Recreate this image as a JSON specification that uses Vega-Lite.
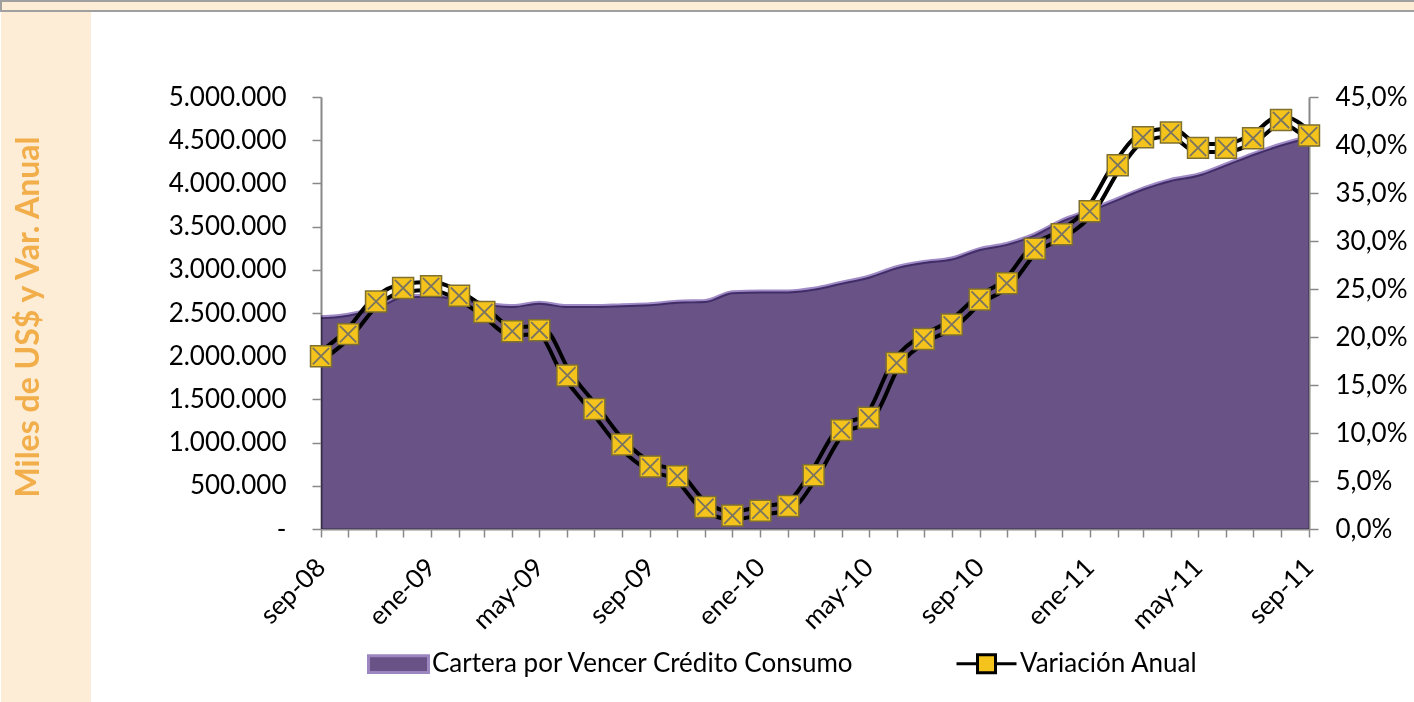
{
  "$schema": "https://vega.github.io/schema/vega-lite/v6.json",
  "background": "white",
  "padding": 0,
  "spacing": 0,
  "config": {"view": {"stroke": null}, "font": "Lato"},
  "datasets": {
    "serie": [
      {"fecha": "2008-09-01", "cartera": 2450000, "var": 18.0},
      {"fecha": "2008-10-01", "cartera": 2480000, "var": 20.3},
      {"fecha": "2008-11-01", "cartera": 2560000, "var": 23.7},
      {"fecha": "2008-12-01", "cartera": 2690000, "var": 25.1},
      {"fecha": "2009-01-01", "cartera": 2700000, "var": 25.3},
      {"fecha": "2009-02-01", "cartera": 2670000, "var": 24.3},
      {"fecha": "2009-03-01", "cartera": 2610000, "var": 22.6},
      {"fecha": "2009-04-01", "cartera": 2580000, "var": 20.6},
      {"fecha": "2009-05-01", "cartera": 2620000, "var": 20.7},
      {"fecha": "2009-06-01", "cartera": 2580000, "var": 16.0},
      {"fecha": "2009-07-01", "cartera": 2580000, "var": 12.5},
      {"fecha": "2009-08-01", "cartera": 2590000, "var": 8.8},
      {"fecha": "2009-09-01", "cartera": 2600000, "var": 6.5},
      {"fecha": "2009-10-01", "cartera": 2630000, "var": 5.5},
      {"fecha": "2009-11-01", "cartera": 2640000, "var": 2.3},
      {"fecha": "2009-12-01", "cartera": 2740000, "var": 1.4},
      {"fecha": "2010-01-01", "cartera": 2750000, "var": 1.9},
      {"fecha": "2010-02-01", "cartera": 2750000, "var": 2.4},
      {"fecha": "2010-03-01", "cartera": 2780000, "var": 5.6},
      {"fecha": "2010-04-01", "cartera": 2850000, "var": 10.3},
      {"fecha": "2010-05-01", "cartera": 2920000, "var": 11.6},
      {"fecha": "2010-06-01", "cartera": 3030000, "var": 17.3},
      {"fecha": "2010-07-01", "cartera": 3090000, "var": 19.8},
      {"fecha": "2010-08-01", "cartera": 3130000, "var": 21.3},
      {"fecha": "2010-09-01", "cartera": 3240000, "var": 23.9},
      {"fecha": "2010-10-01", "cartera": 3300000, "var": 25.6},
      {"fecha": "2010-11-01", "cartera": 3410000, "var": 29.2},
      {"fecha": "2010-12-01", "cartera": 3570000, "var": 30.7},
      {"fecha": "2011-01-01", "cartera": 3690000, "var": 33.1},
      {"fecha": "2011-02-01", "cartera": 3820000, "var": 37.9},
      {"fecha": "2011-03-01", "cartera": 3940000, "var": 40.8},
      {"fecha": "2011-04-01", "cartera": 4040000, "var": 41.3},
      {"fecha": "2011-05-01", "cartera": 4100000, "var": 39.7},
      {"fecha": "2011-06-01", "cartera": 4220000, "var": 39.7},
      {"fecha": "2011-07-01", "cartera": 4340000, "var": 40.7},
      {"fecha": "2011-08-01", "cartera": 4450000, "var": 42.6},
      {"fecha": "2011-09-01", "cartera": 4540000, "var": 41.0}
    ]
  },
  "vconcat": [
    {
      "width": 1414,
      "height": 10,
      "view": {"fill": "#FDEDD6", "stroke": "#A0A0A0", "strokeWidth": 2},
      "data": {"values": []},
      "mark": "point"
    },
    {
      "spacing": 77,
      "hconcat": [
        {
          "width": 90,
          "height": 692,
          "view": {"fill": "#FDEDD6", "stroke": null},
          "data": {"values": [{"t": "Miles de US$ y Var. Anual"}]},
          "mark": {"type": "text", "angle": 270, "font": "Lato", "fontSize": 32, "fontWeight": "bold", "color": "#F2AE4A", "align": "center", "baseline": "middle", "dx": 41, "dy": -17},
          "encoding": {"text": {"field": "t", "type": "nominal"}}
        },
        {
          "spacing": 71,
          "vconcat": [
            {
              "width": 988,
              "height": 1,
              "data": {"values": []},
              "mark": "point"
            },
            {
              "width": 988,
              "height": 432,
              "data": {"name": "serie"},
              "encoding": {
                "x": {
                  "field": "fecha",
                  "type": "temporal",
                  "scale": {"type": "utc", "nice": false},
                  "axis": {
                    "title": null,
                    "tickCount": {"interval": "month", "step": 1},
                    "labelExpr": "utcmonth(datum.value) % 4 == 0 ? ['ene','feb','mar','abr','may','jun','jul','ago','sep','oct','nov','dic'][utcmonth(datum.value)] + '-' + utcFormat(datum.value, '%y') : ''",
                    "labelAngle": -45,
                    "labelAlign": "right",
                    "labelBaseline": "middle",
                    "labelPadding": 26,
                    "labelFontSize": 26,
                    "labelColor": "black",
                    "labelOverlap": false,
                    "labelFlush": false,
                    "grid": false,
                    "domainColor": "#888888",
                    "domainWidth": 2,
                    "tickColor": "#888888",
                    "tickWidth": 1.5,
                    "tickSize": 8
                  }
                }
              },
              "layer": [
                {
                  "mark": {"type": "line", "interpolate": "monotone", "color": "black", "strokeWidth": 12, "strokeJoin": "round", "strokeCap": "round"},
                  "encoding": {
                    "y": {
                      "field": "var",
                      "type": "quantitative",
                      "scale": {"domain": [0, 45], "nice": false},
                      "axis": {
                        "orient": "right",
                        "title": null,
                        "values": [0, 5, 10, 15, 20, 25, 30, 35, 40, 45],
                        "labelExpr": "replace(format(datum.value, '.1f'), '.', ',') + '%'",
                        "labelFontSize": 26,
                        "labelColor": "black",
                        "labelPadding": 17,
                        "grid": false,
                        "domainColor": "#888888",
                        "domainWidth": 2,
                        "tickColor": "#888888",
                        "tickWidth": 1.5,
                        "tickSize": 9
                      }
                    }
                  }
                },
                {
                  "mark": {"type": "line", "interpolate": "monotone", "color": "white", "strokeWidth": 4, "strokeJoin": "round"},
                  "encoding": {
                    "y": {"field": "var", "type": "quantitative", "scale": {"domain": [0, 45], "nice": false}, "axis": null}
                  }
                },
                {
                  "mark": {"type": "area", "interpolate": "monotone", "blend": "multiply", "opacity": 1},
                  "encoding": {
                    "y": {
                      "field": "cartera",
                      "type": "quantitative",
                      "scale": {"domain": [0, 5000000], "nice": false},
                      "axis": {
                        "orient": "left",
                        "title": null,
                        "values": [0, 500000, 1000000, 1500000, 2000000, 2500000, 3000000, 3500000, 4000000, 4500000, 5000000],
                        "labelExpr": "datum.value == 0 ? '-' : replace(format(datum.value, ',.0f'), /,/g, '.')",
                        "labelFontSize": 26,
                        "labelColor": "black",
                        "labelPadding": 26,
                        "grid": false,
                        "domainColor": "#888888",
                        "domainWidth": 2,
                        "tickColor": "#888888",
                        "tickWidth": 1.5,
                        "tickSize": 9
                      }
                    },
                    "color": {
                      "datum": "Cartera por Vencer Crédito Consumo",
                      "type": "nominal",
                      "scale": {"domain": ["Cartera por Vencer Crédito Consumo", "Variación Anual"], "range": ["#685286", "#F4C31C"]},
                      "legend": {
                        "title": null,
                        "orient": "none",
                        "legendX": 366,
                        "legendY": 631,
                        "direction": "horizontal",
                        "labelFontSize": 26,
                        "labelFont": "Lato",
                        "labelColor": "black",
                        "labelLimit": 0,
                        "labelOffset": 2,
                        "columnPadding": 95,
                        "symbolSize": 3600,
                        "symbolOpacity": 1,
                        "encode": {
                          "symbols": {
                            "update": {
                              "shape": {"signal": "datum.value == 'Variación Anual' ? 'M-1,0H-0.3M0.3,0H1M-0.3,-0.3H0.3V0.3H-0.3Z' : 'M-1,-0.28H1V0.28H-1Z'"},
                              "fill": {"signal": "datum.value == 'Variación Anual' ? '#F4C31C' : '#685286'"},
                              "stroke": {"signal": "datum.value == 'Variación Anual' ? 'black' : '#9C86C0'"},
                              "strokeWidth": {"value": 3},
                              "opacity": {"value": 1}
                            }
                          }
                        }
                      }
                    }
                  }
                },
                {
                  "mark": {"type": "line", "interpolate": "monotone", "color": "#A08BC6", "strokeWidth": 4, "blend": "multiply"},
                  "encoding": {
                    "y": {"field": "cartera", "type": "quantitative", "scale": {"domain": [0, 5000000], "nice": false}, "axis": null}
                  }
                },
                {
                  "mark": {"type": "point", "shape": "square", "filled": true, "size": 440, "opacity": 1, "stroke": "#7F7030", "strokeWidth": 1.5},
                  "encoding": {
                    "y": {"field": "var", "type": "quantitative", "scale": {"domain": [0, 45], "nice": false}, "axis": null},
                    "color": {"datum": "Variación Anual", "type": "nominal"}
                  }
                },
                {
                  "mark": {"type": "point", "shape": "M-1,-1L1,1M-1,1L1,-1", "filled": false, "size": 270, "opacity": 1, "color": "#7A7460", "strokeWidth": 1.8},
                  "encoding": {
                    "y": {"field": "var", "type": "quantitative", "scale": {"domain": [0, 45], "nice": false}, "axis": null}
                  }
                }
              ],
              "resolve": {"scale": {"y": "independent"}}
            }
          ]
        }
      ]
    }
  ]
}
